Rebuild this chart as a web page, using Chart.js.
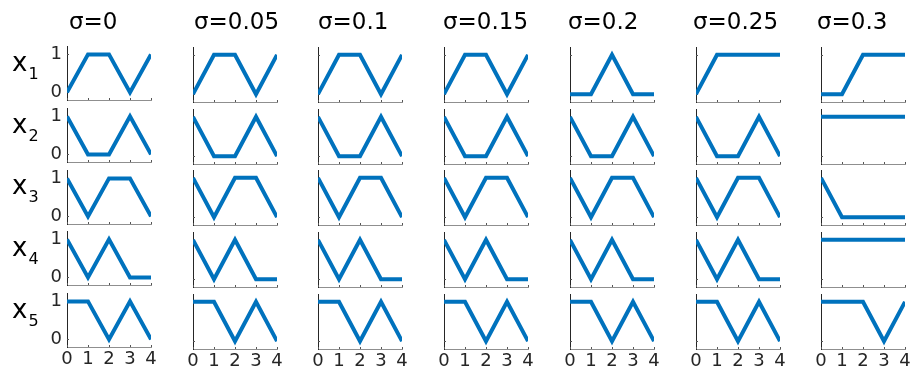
<!DOCTYPE html>
<html>
<head>
<meta charset="utf-8">
<script src="https://cdn.jsdelivr.net/npm/chart.js@4/dist/chart.umd.min.js"></script>
<style>
html, body { margin: 0; padding: 0; background: #fff; }
#fig { position: relative; width: 911px; height: 366px; overflow: hidden; font-family: "DejaVu Sans", sans-serif; color: #000; }
.cell { position: absolute; }
.cell canvas { display: block; }
.title { position: absolute; font-size: 23px; line-height: 22px; white-space: nowrap; }
.rowlab { position: absolute; font-size: 26px; line-height: 26px; white-space: nowrap; }
.rowlab span { font-size: 16px; position: relative; top: 8px; margin-left: 1px; }
</style>
</head>
<body>
<div id="fig"></div>
<script>
// column titles and row names
var sigmaLabels = ['σ=0', 'σ=0.05', 'σ=0.1', 'σ=0.15', 'σ=0.2', 'σ=0.25', 'σ=0.3'];
var rowNames = ['1', '2', '3', '4', '5'];
var xTicks = [0, 1, 2, 3, 4];
var yTicks = [0, 1];

// one array per row, one series per sigma column (values at x = 0..4)
var x1Series = [
	[0, 1, 1, 0, 1], [0, 1, 1, 0, 1], [0, 1, 1, 0, 1], [0, 1, 1, 0, 1],
	[0, 0, 1, 0, 0], [0, 1, 1, 1, 1], [0, 0, 1, 1, 1]
];
var x2Series = [
	[1, 0, 0, 1, 0], [1, 0, 0, 1, 0], [1, 0, 0, 1, 0], [1, 0, 0, 1, 0],
	[1, 0, 0, 1, 0], [1, 0, 0, 1, 0], [1, 1, 1, 1, 1]
];
var x3Series = [
	[1, 0, 1, 1, 0], [1, 0, 1, 1, 0], [1, 0, 1, 1, 0], [1, 0, 1, 1, 0],
	[1, 0, 1, 1, 0], [1, 0, 1, 1, 0], [1, 0, 0, 0, 0]
];
var x4Series = [
	[1, 0, 1, 0, 0], [1, 0, 1, 0, 0], [1, 0, 1, 0, 0], [1, 0, 1, 0, 0],
	[1, 0, 1, 0, 0], [1, 0, 1, 0, 0], [1, 1, 1, 1, 1]
];
var x5Series = [
	[1, 1, 0, 1, 0], [1, 1, 0, 1, 0], [1, 1, 0, 1, 0], [1, 1, 0, 1, 0],
	[1, 1, 0, 1, 0], [1, 1, 0, 1, 0], [1, 1, 1, 0, 1]
];
var rows = [x1Series, x2Series, x3Series, x4Series, x5Series];

// grid geometry
var plotLeft0 = 67, colStep = 125.7;
var plotTop0 = 46.6, rowStep = 61.9;
var plotW = 84, plotH = 55;
var yAxisW = 30, xAxisH = 22, padTop = 14, padRight = 8;

var axisColor = '#262626';
var lineColor = '#0072BD';

// MATLAB style ticks pointing into the plot
var innerTicks = {
	id: 'innerTicks',
	beforeDatasetsDraw: function (chart) {
		var ctx = chart.ctx, a = chart.chartArea;
		var xs = chart.scales.x, ys = chart.scales.y;
		ctx.save();
		ctx.lineWidth = 1;
		ctx.strokeStyle = '#555';
		ctx.beginPath();
		xs.ticks.forEach(function (t) {
			var px = Math.round(xs.getPixelForValue(t.value)) + 0.5;
			ctx.moveTo(px, a.bottom);
			ctx.lineTo(px, a.bottom - 2);
		});
		ys.ticks.forEach(function (t) {
			var py = Math.round(ys.getPixelForValue(t.value)) + 0.5;
			ctx.moveTo(a.left, py);
			ctx.lineTo(a.left + 2, py);
		});
		ctx.stroke();
		ctx.restore();
	}
};

var fig = document.getElementById('fig');

function makeCell(r, c) {
	var holder = document.createElement('div');
	holder.className = 'cell';
	var cv = document.createElement('canvas');
	cv.width = yAxisW + plotW + padRight;
	cv.height = padTop + plotH + xAxisH;
	holder.appendChild(cv);
	fig.appendChild(holder);

	var showX = r === rows.length - 1;
	var showY = c === 0;

	var chart = new Chart(cv, {
		type: 'line',
		data: {
			labels: xTicks,
			datasets: [{
				data: rows[r][c],
				borderColor: lineColor,
				borderWidth: 4,
				borderCapStyle: 'butt',
				borderJoinStyle: 'miter',
				pointRadius: 0,
				tension: 0
			}]
		},
		options: {
			responsive: false,
			animation: false,
			devicePixelRatio: 1,
			layout: { padding: { top: padTop, right: padRight, left: 0, bottom: 0 } },
			plugins: { legend: { display: false }, tooltip: { enabled: false } },
			scales: {
				x: {
					type: 'linear',
					min: 0,
					max: 4,
					afterBuildTicks: function (scale) {
						scale.ticks = xTicks.map(function (v) { return { value: v }; });
					},
					afterFit: function (scale) { scale.height = xAxisH; },
					grid: { display: false, drawTicks: false },
					border: { display: true, color: '#8f8f8f', width: 1 },
					ticks: {
						display: showX,
						padding: 2,
						maxRotation: 0,
						color: axisColor,
						font: { family: 'DejaVu Sans', size: 18 }
					}
				},
				y: {
					min: -0.2,
					max: 1.2,
					afterBuildTicks: function (scale) {
						scale.ticks = yTicks.map(function (v) { return { value: v }; });
					},
					afterFit: function (scale) { scale.width = yAxisW; },
					grid: { display: false, drawTicks: false },
					border: { display: true, color: axisColor, width: 1 },
					ticks: {
						display: showY,
						padding: 5,
						color: axisColor,
						font: { family: 'DejaVu Sans', size: 18 }
					}
				}
			}
		},
		plugins: [innerTicks]
	});

	var a = chart.chartArea;
	holder.style.left = Math.round(plotLeft0 + c * colStep - a.left) + 'px';
	holder.style.top = Math.round(plotTop0 + r * rowStep - a.top) + 'px';
}

for (var r = 0; r < rows.length; r++) {
	for (var c = 0; c < sigmaLabels.length; c++) {
		makeCell(r, c);
	}
}

sigmaLabels.forEach(function (label, c) {
	var t = document.createElement('div');
	t.className = 'title';
	t.textContent = label;
	t.style.left = Math.round(69 + c * 124.7) + 'px';
	t.style.top = '10px';
	fig.appendChild(t);
});

rowNames.forEach(function (name, r) {
	var d = document.createElement('div');
	d.className = 'rowlab';
	d.innerHTML = 'x<span>' + name + '</span>';
	d.style.left = '12px';
	d.style.top = Math.round(plotTop0 + r * rowStep + 2) + 'px';
	fig.appendChild(d);
});
</script>
</body>
</html>
